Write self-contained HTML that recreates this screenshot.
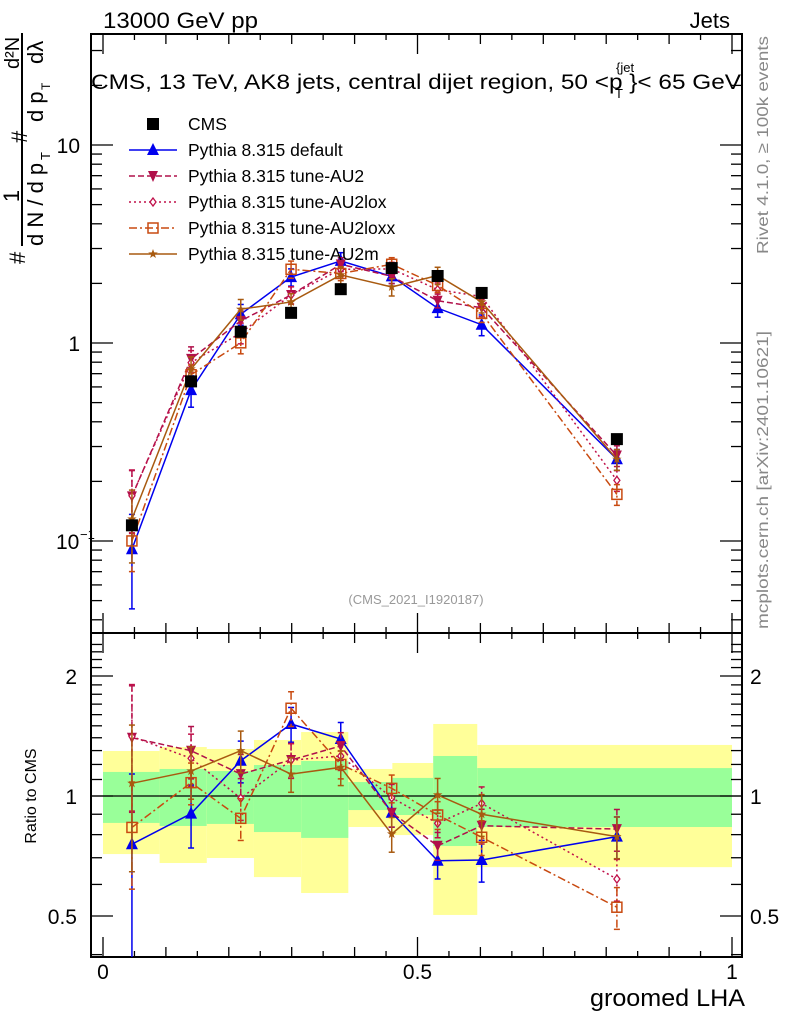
<!DOCTYPE html>
<html><head><meta charset="utf-8"><style>
body{margin:0;background:#fff}
svg{display:block;font-family:"Liberation Sans",sans-serif}
</style></head><body>
<svg id="c" width="786" height="1024" viewBox="0 0 786 1024" xmlns="http://www.w3.org/2000/svg">
<g id="bands"></g>
<g id="axes"></g>
<g id="series"></g>
<text x="103" y="28" font-size="22" textLength="155" lengthAdjust="spacingAndGlyphs">13000 GeV pp</text>
<text x="730" y="28" font-size="22" text-anchor="end">Jets</text>
<text x="91" y="89" font-size="21" textLength="650" lengthAdjust="spacingAndGlyphs">CMS, 13 TeV, AK8 jets, central dijet region, 50 &lt;p  }&lt; 65 GeV</text>
<text x="616" y="72" font-size="13">{jet</text>
<text x="615" y="98" font-size="13">T</text>
<text x="416" y="604" font-size="13" fill="#999" text-anchor="middle">(CMS_2021_I1920187)</text>
<text transform="translate(768,145) rotate(-90)" font-size="16" fill="#888" text-anchor="middle" textLength="218" lengthAdjust="spacingAndGlyphs">Rivet 4.1.0, ≥ 100k events</text>
<text transform="translate(768,480) rotate(-90)" font-size="16" fill="#888" text-anchor="middle" textLength="298" lengthAdjust="spacingAndGlyphs">mcplots.cern.ch [arXiv:2401.10621]</text>
<text transform="translate(36,796) rotate(-90)" font-size="16" text-anchor="middle">Ratio to CMS</text>
<text x="745" y="1006" font-size="24" text-anchor="end" textLength="155" lengthAdjust="spacingAndGlyphs">groomed LHA</text>
<g font-size="22">
<line x1="22" y1="33" x2="22" y2="246" stroke="#000" stroke-width="2"/>
<text transform="translate(25,264) rotate(-90)">#</text>
<text transform="translate(19,196) rotate(-90)" text-anchor="middle">1</text>
<text transform="translate(43,246) rotate(-90)">d N / d p</text>
<text transform="translate(50,160) rotate(-90)" font-size="13">T</text>
<text transform="translate(27,143) rotate(-90)">#</text>
<text transform="translate(19,69) rotate(-90)" font-size="20">d²N</text>
<text transform="translate(43,122) rotate(-90)">d p</text>
<text transform="translate(50,90) rotate(-90)" font-size="12">T</text>
<text transform="translate(43,64) rotate(-90)">dλ</text>
</g>
<g id="legend"></g>
</svg>
<script>
const xs=[0.046,0.140,0.219,0.299,0.378,0.459,0.532,0.602,0.817];
const cms=[0.12,0.64,1.14,1.42,1.87,2.39,2.18,1.79,0.327];
const rDefault=[0.757,0.903,1.226,1.516,1.39,0.908,0.688,0.691,0.791];
const rAU2=[1.40,1.299,1.135,1.231,1.335,0.908,0.75,0.842,0.826];
const rAU2lox=[1.41,1.243,0.987,1.23,1.26,0.99,0.854,0.958,0.619];
const rAU2loxx=[0.834,1.08,0.879,1.66,1.20,1.045,0.896,0.788,0.526];
const rAU2m=[1.076,1.155,1.299,1.135,1.18,0.803,1.006,0.9,0.791];
const eDefault=[0.5,0.18,0.12,0.1,0.1,0.08,0.1,0.12,0.12];
const eAU2=[0.35,0.15,0.12,0.1,0.08,0.08,0.08,0.1,0.12];
const eAU2lox=[0.35,0.15,0.12,0.1,0.08,0.08,0.08,0.1,0.12];
const eAU2loxx=[0.3,0.12,0.12,0.1,0.08,0.08,0.08,0.1,0.12];
const eAU2m=[0.4,0.15,0.12,0.1,0.1,0.1,0.1,0.12,0.12];
const binEdges=[0,0.09,0.165,0.24,0.315,0.39,0.46,0.525,0.595,1.0];
const yelHi=[1.297,1.327,1.312,1.382,1.447,1.169,1.21,1.516,1.343];
const yelLo=[0.715,0.679,0.699,0.626,0.571,0.836,0.798,0.503,0.663];
const grnHi=[1.149,1.169,1.155,1.196,1.224,1.084,1.11,1.26,1.175];
const grnLo=[0.856,0.841,0.851,0.812,0.785,0.922,0.896,0.749,0.836];
const xTickLabels=["0","0.5","1"];
const ratioTickLabels=["0.5","1","2"];

const NS="http://www.w3.org/2000/svg";
const L=91,R=742,T=34,MID=633,B=957;
const X=v=>103+629*v;
const Y=v=>343-198*Math.log10(v);
const YR=v=>796-398.6*Math.log10(v);
function mk(p,tag,at){const e=document.createElementNS(NS,tag);for(const k in at)e.setAttribute(k,at[k]);p.appendChild(e);return e;}
const gb=document.getElementById('bands'),ga=document.getElementById('axes'),gs=document.getElementById('series'),gl=document.getElementById('legend');

for(let i=0;i<yelHi.length;i++){
  const x0=Math.max(X(binEdges[i]),L+1),x1=Math.min(X(binEdges[i+1]),R-1);
  let r=mk(gb,'rect',{x:x0,y:YR(yelHi[i]),width:x1-x0,height:YR(yelLo[i])-YR(yelHi[i]),fill:'#ffff99'});
  
  
  r=mk(gb,'rect',{x:x0,y:YR(grnHi[i]),width:x1-x0,height:YR(grnLo[i])-YR(grnHi[i]),fill:'#99ff99'});
  
  
}
mk(ga,'rect',{x:L,y:T,width:R-L,height:MID-T,fill:'none',stroke:'#000','stroke-width':2});
mk(ga,'rect',{x:L,y:MID,width:R-L,height:B-MID,fill:'none',stroke:'#000','stroke-width':2});
mk(ga,'line',{x1:L,x2:R,y1:YR(1),y2:YR(1),stroke:'#000','stroke-width':1.3});
for(let k=0;k<=20;k++){const v=k*0.05;const x=X(v);if(x<L||x>R)continue;
  const len=k%10==0?20:(k%2==0?10:6);
  [[T,1],[MID,-1],[MID,1],[B,-1]].forEach(([y,d])=>mk(ga,'line',{x1:x,x2:x,y1:y,y2:y+d*len,stroke:'#000','stroke-width':1.3}));
}
[0,0.5,1].forEach((v,i)=>{const t=mk(ga,'text',{x:X(v),y:979,'font-size':21,'text-anchor':'middle'});t.textContent=xTickLabels[i];
  
  });
for(let e=-2;e<=1;e++)for(let m=1;m<=9;m++){const v=m*Math.pow(10,e);const y=Y(v);if(y<T||y>MID)continue;
  const len=m==1?22:11;
  mk(ga,'line',{x1:L,x2:L+len,y1:y,y2:y,stroke:'#000','stroke-width':1.3});
  mk(ga,'line',{x1:R,x2:R-len,y1:y,y2:y,stroke:'#000','stroke-width':1.3});}
[[10,'10'],[1,'1']].forEach(([v,s])=>{const t=mk(ga,'text',{x:80,y:Y(v)+8,'font-size':21,'text-anchor':'end'});t.textContent=s;
  
  });
{const t=mk(ga,'text',{x:56,y:Y(0.1)+8,'font-size':21});t.textContent='10';
 
 
 const s=mk(ga,'text',{x:80,y:Y(0.1)-2,'font-size':13});s.textContent='−1';}
[0.4,0.5,0.6,0.7,0.8,0.9,1,2].forEach(v=>{const y=YR(v);if(y<MID||y>B)return;const len=(v==0.5||v==1||v==2)?22:11;
  mk(ga,'line',{x1:L,x2:L+len,y1:y,y2:y,stroke:'#000','stroke-width':1.3});
  mk(ga,'line',{x1:R,x2:R-len,y1:y,y2:y,stroke:'#000','stroke-width':1.3});});
for(let m=1.1;m<2.5;m+=0.1){if(Math.abs(m-2)<0.01)continue;const y=YR(m);if(y<MID)continue;
  mk(ga,'line',{x1:L,x2:L+11,y1:y,y2:y,stroke:'#000','stroke-width':1.3});mk(ga,'line',{x1:R,x2:R-11,y1:y,y2:y,stroke:'#000','stroke-width':1.3});}
[0.5,1,2].forEach((v,i)=>{let t=mk(ga,'text',{x:77,y:YR(v)+8,'font-size':21,'text-anchor':'end'});t.textContent=ratioTickLabels[i];
  
  
  t=mk(ga,'text',{x:750,y:YR(v)+8,'font-size':21});t.textContent=ratioTickLabels[i];
  
  });

function marker(g,type,x,y,c){
  if(type=='sq')return mk(g,'rect',{x:x-6,y:y-6,width:12,height:12,fill:'#000'});
  if(type=='tu')return mk(g,'path',{d:`M${x},${y-7}L${x+6},${y+5}L${x-6},${y+5}Z`,fill:c});
  if(type=='td')return mk(g,'path',{d:`M${x},${y+6}L${x+5},${y-5}L${x-5},${y-5}Z`,fill:c});
  if(type=='dia')return mk(g,'path',{d:`M${x},${y-4}L${x+3},${y}L${x},${y+4}L${x-3},${y}Z`,fill:'#fff',stroke:c,'stroke-width':1.3});
  if(type=='osq')return mk(g,'rect',{x:x-5,y:y-5,width:10,height:10,fill:'none',stroke:c,'stroke-width':1.5});
  if(type=='star'){let d='';for(let k=0;k<10;k++){const r=k%2?2:5;const a=-Math.PI/2+k*Math.PI/5;d+=(k?'L':'M')+(x+r*Math.cos(a)).toFixed(1)+','+(y+r*Math.sin(a)).toFixed(1);}return mk(g,'path',{d:d+'Z',fill:c});}
}
const series=[
 {name:'default',r:rDefault,e:eDefault,c:'#0000ee',dash:'',m:'tu',label:'Pythia 8.315 default'},
 {name:'au2',r:rAU2,e:eAU2,c:'#b0104a',dash:'6,3',m:'td',label:'Pythia 8.315 tune-AU2'},
 {name:'au2lox',r:rAU2lox,e:eAU2lox,c:'#c0104a',dash:'2,3',m:'dia',label:'Pythia 8.315 tune-AU2lox'},
 {name:'au2loxx',r:rAU2loxx,e:eAU2loxx,c:'#c84a10',dash:'8,3,2,3',m:'osq',label:'Pythia 8.315 tune-AU2loxx'},
 {name:'au2m',r:rAU2m,e:eAU2m,c:'#a85a10',dash:'',m:'star',label:'Pythia 8.315 tune-AU2m'}];
series.forEach(s=>{
  const g=mk(gs,'g',{});
  
  
  const top=s.r.map((r,i)=>cms[i]*r);
  const clipT=y=>Math.min(Math.max(y,T),MID), clipB=y=>Math.min(Math.max(y,MID),B);
  mk(g,'polyline',{points:xs.map((x,i)=>X(x)+','+Y(top[i])).join(' '),fill:'none',stroke:s.c,'stroke-width':1.5,'stroke-dasharray':s.dash});
  mk(g,'polyline',{points:xs.map((x,i)=>X(x)+','+YR(s.r[i])).join(' '),fill:'none',stroke:s.c,'stroke-width':1.5,'stroke-dasharray':s.dash});
  xs.forEach((x,i)=>{
    const px=X(x);
    const lo=Math.max(1-s.e[i],0.01),hi=1+s.e[i];
    const bars=[[clipT(Y(top[i]*hi)),clipT(Y(top[i]*lo))],[clipB(YR(s.r[i]*hi)),clipB(YR(s.r[i]*lo))]];
    bars.forEach(([a,b])=>{
      mk(g,'line',{x1:px,x2:px,y1:a,y2:b,stroke:s.c,'stroke-width':1.5,'stroke-dasharray':s.dash});
      [a,b].forEach(yy=>{if(yy>T+1&&yy<B-1&&Math.abs(yy-MID)>1)mk(g,'line',{x1:px-3,x2:px+3,y1:yy,y2:yy,stroke:s.c,'stroke-width':1.5});});
    });
    let m=marker(g,s.m,px,Y(top[i]),s.c);
    
    
    m=marker(g,s.m,px,YR(s.r[i]),s.c);
    
    
  });
});
const gc=mk(gs,'g',{});


xs.forEach((x,i)=>{const m=marker(gc,'sq',X(x),Y(cms[i]),'#000');
  
  });
{const e=mk(gl,'g',{});
 marker(e,'sq',153,124,'#000');const t=mk(e,'text',{x:188,y:130,'font-size':17.5});t.textContent='CMS';}
series.forEach((s,i)=>{const y=150+26*i;const e=mk(gl,'g',{});
  
  
  mk(e,'line',{x1:129,x2:177,y1:y,y2:y,stroke:s.c,'stroke-width':1.5,'stroke-dasharray':s.dash});
  marker(e,s.m,153,y,s.c);
  const t=mk(e,'text',{x:188,y:y+6,'font-size':17.5});t.textContent=s.label;});
</script>
</body></html>
